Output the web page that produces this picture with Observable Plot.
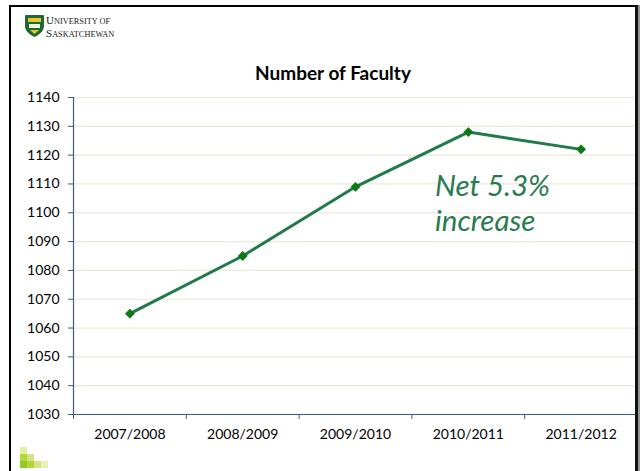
<!DOCTYPE html>
<html>
<head>
<meta charset="utf-8">
<script src="https://cdn.jsdelivr.net/npm/d3@7"></script>
<script src="https://cdn.jsdelivr.net/npm/@observablehq/plot@0.6"></script>
<style>
  html, body { margin: 0; padding: 0; background: #fff; }
  #page { position: relative; width: 640px; height: 471px; overflow: hidden; background: #fff; font-family: Lato, "Open Sans", sans-serif; }
  #frame { position: absolute; left: 9px; top: 5px; width: 629px; height: 520px; box-sizing: border-box; border: 2px solid #000; border-right: 3px solid #111; box-shadow: 2px 0 0 #999; z-index: 5; pointer-events: none; }
  #chart { position: absolute; left: 0; top: 0; }
  #title { position: absolute; left: 0; width: 666px; top: 61px; text-align: center; font-weight: bold; font-size: 19px; color: #000; z-index: 3; }
  #note { position: absolute; left: 435px; top: 167px; font-style: italic; font-size: 29.5px; line-height: 35px; color: #2a7a50; z-index: 3; }
  #logo { position: absolute; left: 25px; top: 15px; z-index: 3; }
  .logotext { position: absolute; left: 46px; font-family: "Liberation Serif", "DejaVu Serif", serif; font-size: 11px; line-height: 12px; height: 12px; color: #222; z-index: 3; white-space: nowrap; }
  .logotext .sc { font-size: 8.3px; }
  .sq { position: absolute; width: 7px; height: 7px; }
</style>
</head>
<body>
<div id="page">
  <div id="chart"></div>
  <div id="title">Number of Faculty</div>
  <div id="note">Net 5.3%<br>increase</div>
  <svg id="logo" width="19" height="22" viewBox="0 0 19 22">
    <path d="M0.5 0.5 H18.5 V11 C18.5 16 14 19.5 9.5 21.5 C5 19.5 0.5 16 0.5 11 Z" fill="#1b6b2e" stroke="#0f4f1e" stroke-width="0.8"/>
    <rect x="3" y="3" width="13" height="4" fill="#e8c531"/>
    <path d="M4 9 H15 V13 H4 Z" fill="#f2f2e6"/>
    <path d="M5 15 H14 L9.5 19 Z" fill="#e8c531"/>
  </svg>
  <div class="logotext" style="top:14px">U<span class="sc">NIVERSITY OF</span></div>
  <div class="logotext" style="top:26.5px">S<span class="sc">ASKATCHEWAN</span></div>
  <div id="frame"></div>
  <div class="sq" style="left:20px;top:447px;background:#e6efa6"></div>
  <div class="sq" style="left:20px;top:454px;background:#b5d733"></div>
  <div class="sq" style="left:27px;top:454px;background:#d4e38a"></div>
  <div class="sq" style="left:20px;top:461px;background:#8cc92b"></div>
  <div class="sq" style="left:27px;top:461px;background:#b5d733"></div>
  <div class="sq" style="left:34px;top:461px;background:#d4e38a"></div>
  <div class="sq" style="left:41px;top:461px;background:#e9f1b3"></div>
</div>
<script>
const years = ["2007/2008", "2008/2009", "2009/2010", "2010/2011", "2011/2012"];
const faculty = [1065, 1085, 1109, 1128, 1122];
const yTicks = [1030, 1040, 1050, 1060, 1070, 1080, 1090, 1100, 1110, 1120, 1130, 1140];

const data = years.map((year, i) => ({i, year, value: faculty[i]}));
const bounds = d3.range(years.length + 1).map(k => k - 0.5);

const axisColor = "#385d8a";
const chart = Plot.plot({
  width: 640,
  height: 471,
  marginLeft: 73,
  marginRight: 3,
  marginTop: 97,
  marginBottom: 57,
  style: {fontFamily: "Lato, 'Open Sans', sans-serif", fontSize: "14px", color: "#000", background: "transparent"},
  x: {type: "linear", domain: [bounds[0], bounds[bounds.length - 1]]},
  y: {domain: [yTicks[0], yTicks[yTicks.length - 1]]},
  marks: [
    Plot.gridY(yTicks, {stroke: "#ebe8da", strokeOpacity: 1, strokeWidth: 1.2}),
    Plot.axisY(yTicks, {tickSize: 5, tickPadding: 9, tickFormat: d => String(d), stroke: axisColor, fill: "#000", fontSize: 14, label: null}),
    Plot.axisX(d3.range(years.length), {tickSize: 0, tickPadding: 15, tickFormat: i => years[i], fill: "#000", fontSize: 14, label: null}),
    Plot.axisX(bounds, {tickSize: 5, tickFormat: () => "", stroke: axisColor, label: null}),
    Plot.ruleY([yTicks[0]], {stroke: axisColor, strokeWidth: 1.2}),
    Plot.ruleX([bounds[0]], {stroke: axisColor, strokeWidth: 1.2}),
    Plot.line(data, {x: "i", y: "value", stroke: "#217a4a", strokeWidth: 3}),
    Plot.dot(data, {x: "i", y: "value", symbol: "diamond2", r: 4.2, fill: "#0b7a14", stroke: "#0b6a10", strokeWidth: 0.5})
  ]
});
document.getElementById("chart").append(chart);
</script>
</body>
</html>
